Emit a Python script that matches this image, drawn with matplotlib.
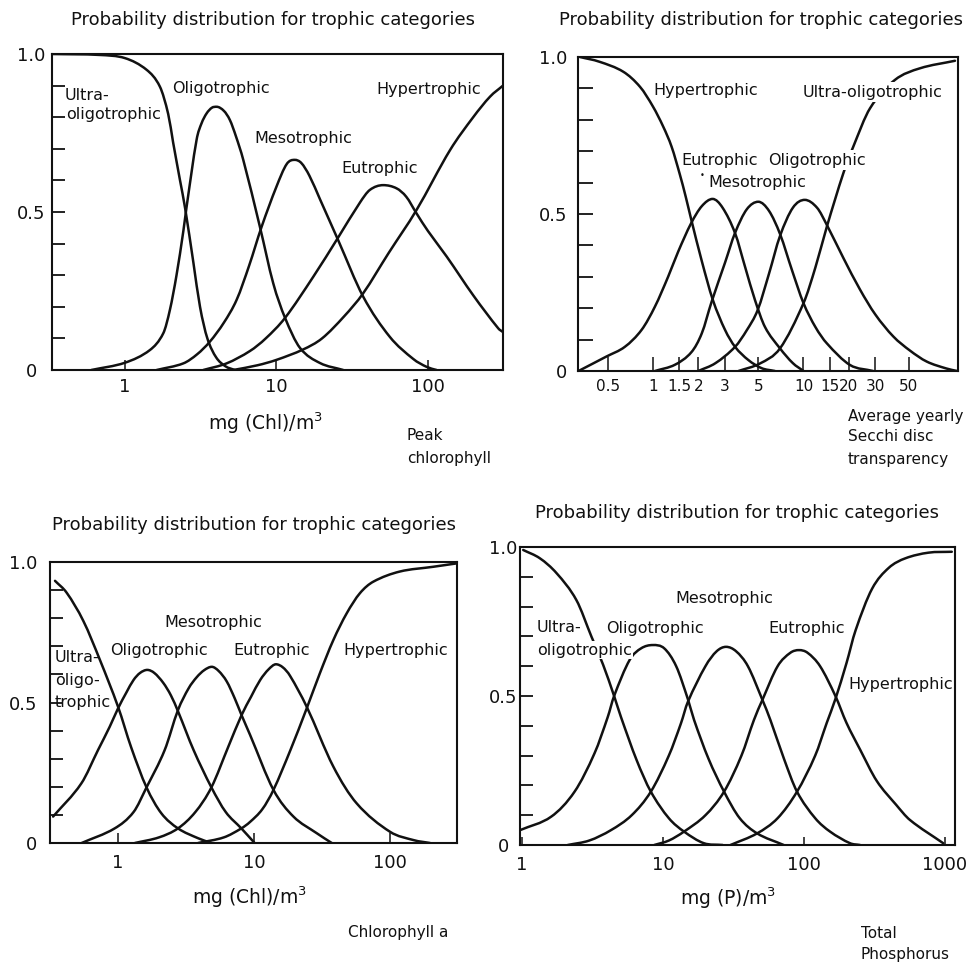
import numpy as np
import matplotlib
matplotlib.use("Agg")
import matplotlib.pyplot as plt
from matplotlib.ticker import FixedLocator, NullLocator
from matplotlib.path import Path
from matplotlib.patches import PathPatch

# ------------------------------------------------------------------ data
categories = ["Ultra-oligotrophic", "Oligotrophic", "Mesotrophic", "Eutrophic", "Hypertrophic"]
title_text = "Probability distribution for trophic categories"

y_ticks = [0.0, 0.1, 0.2, 0.3, 0.4, 0.5, 0.6, 0.7, 0.8, 0.9, 1.0]
y_tick_labels = ["0", "", "", "", "", "0.5", "", "", "", "", "1.0"]

# Panel A: peak chlorophyll, mg (Chl)/m3
pc_ticks = [1, 10, 100]
pc_tick_labels = ["1", "10", "100"]
pc_ultra_x = [0.33, 0.68, 1.0, 1.39, 1.70, 1.93, 2.08, 2.31, 2.5, 2.83, 3.13, 3.5, 4.0, 4.6, 5.3]
pc_ultra_y = [1.0, 0.997, 0.987, 0.95, 0.897, 0.81, 0.72, 0.60, 0.51, 0.34, 0.20, 0.10, 0.04, 0.012, 0.0]
pc_oligo_x = [0.6, 1.0, 1.46, 1.79, 1.98, 2.19, 2.43, 2.55, 2.97, 3.2, 3.46, 3.75, 4.03, 4.5, 4.93, 5.4,
              6.04, 7.78, 9.53, 11.4, 14.3, 19.4, 27.6]
pc_oligo_y = [0.0, 0.023, 0.063, 0.116, 0.19, 0.30, 0.44, 0.515, 0.728, 0.78, 0.812, 0.83, 0.833, 0.82,
              0.791, 0.74, 0.665, 0.453, 0.274, 0.165, 0.07, 0.022, 0.0]
pc_meso_x = [1.62, 2.43, 3.0, 3.64, 4.5, 5.46, 6.6, 7.98, 10, 11.7, 13.2, 14.6, 16.5, 19.4, 25.6, 37.4,
             56, 80, 98, 114]
pc_meso_y = [0.0, 0.021, 0.05, 0.09, 0.15, 0.222, 0.33, 0.453, 0.58, 0.652, 0.665, 0.655, 0.615, 0.54,
             0.41, 0.232, 0.105, 0.035, 0.01, 0.0]
pc_eutro_x = [3.29, 4.69, 6.68, 8.5, 11.4, 17.5, 25.6, 35.6, 41.4, 50.7, 62, 72, 84, 100, 133, 200, 291, 313]
pc_eutro_y = [0.0, 0.021, 0.06, 0.1, 0.165, 0.295, 0.42, 0.53, 0.57, 0.585, 0.575, 0.548, 0.496, 0.44,
              0.359, 0.235, 0.132, 0.12]
pc_hyper_x = [5.19, 7.5, 10, 15, 20, 28, 37.4, 55, 84, 140, 199, 257, 313]
pc_hyper_y = [0.0, 0.015, 0.032, 0.065, 0.1, 0.17, 0.243, 0.37, 0.506, 0.696, 0.80, 0.865, 0.9]

# Panel B: average yearly Secchi disc transparency
sd_ticks = [0.5, 1, 1.5, 2, 3, 5, 10, 15, 20, 30, 50]
sd_tick_labels = ["0.5", "1", "1.5", "2", "3", "5", "10", "15", "20", "30", "50"]
sd_hyper_x = [0.327, 0.44, 0.635, 0.82, 1.0, 1.17, 1.33, 1.51, 1.65, 1.79, 2.11, 2.5, 3.01, 3.51, 4.3, 5.27, 6.46]
sd_hyper_y = [1.0, 0.985, 0.953, 0.905, 0.842, 0.778, 0.714, 0.625, 0.555, 0.485, 0.35, 0.226, 0.131, 0.077,
              0.035, 0.009, 0.0]
sd_eutro_x = [0.32, 0.49, 0.65, 0.84, 1.03, 1.26, 1.47, 1.79, 2.11, 2.49, 2.9, 3.51, 4.1, 4.76, 5.55, 6.98, 8.5, 10]
sd_eutro_y = [0.0, 0.046, 0.077, 0.131, 0.205, 0.30, 0.38, 0.47, 0.525, 0.548, 0.52, 0.439, 0.33, 0.226,
              0.14, 0.072, 0.025, 0.0]
sd_meso_x = [1.03, 1.4, 1.8, 2.11, 2.45, 3.01, 3.51, 4.2, 5.01, 5.9, 7.0, 8.4, 10, 12, 14.3, 20.4, 29]
sd_meso_y = [0.0, 0.02, 0.06, 0.12, 0.22, 0.345, 0.44, 0.515, 0.539, 0.51, 0.435, 0.32, 0.216, 0.14,
             0.088, 0.019, 0.0]
sd_oligo_x = [2.0, 2.6, 3.51, 4.2, 4.96, 5.9, 6.98, 8.5, 10.2, 12.3, 14.3, 18.4, 23.7, 30, 39.5, 51, 65.9, 89, 105]
sd_oligo_y = [0.0, 0.025, 0.077, 0.13, 0.194, 0.31, 0.43, 0.52, 0.545, 0.52, 0.465, 0.36, 0.26, 0.18,
              0.11, 0.065, 0.03, 0.008, 0.0]
sd_ultra_x = [3.7, 5.14, 6.98, 10, 12, 14.3, 18.4, 21.4, 27.7, 40.5, 59.4, 101.5]
sd_ultra_y = [0.0, 0.024, 0.072, 0.216, 0.33, 0.46, 0.63, 0.714, 0.837, 0.927, 0.964, 0.988]

# Panel C: chlorophyll a, mg (Chl)/m3
ca_ticks = [1, 10, 100]
ca_tick_labels = ["1", "10", "100"]
ca_ultra_x = [0.344, 0.42, 0.556, 0.738, 1.0, 1.25, 1.62, 2.08, 2.76, 3.88, 4.86]
ca_ultra_y = [0.933, 0.89, 0.79, 0.65, 0.485, 0.34, 0.198, 0.106, 0.052, 0.017, 0.0]
ca_oligo_x = [0.333, 0.537, 0.713, 0.869, 1.0, 1.15, 1.3, 1.45, 1.64, 1.85, 2.15, 2.45, 2.77, 3.6, 4.86,
              6.2, 8.07, 10.1]
ca_oligo_y = [0.094, 0.212, 0.331, 0.414, 0.479, 0.535, 0.58, 0.605, 0.616, 0.605, 0.57, 0.525, 0.467,
              0.33, 0.198, 0.11, 0.052, 0.0]
ca_meso_x = [0.54, 0.945, 1.3, 1.62, 2.2, 2.76, 3.3, 3.79, 4.3, 4.89, 5.5, 6.3, 7.21, 8.1, 9.35, 13.9, 19.5,
             28.9, 37.3]
ca_meso_y = [0.0, 0.052, 0.11, 0.198, 0.33, 0.473, 0.55, 0.59, 0.615, 0.627, 0.612, 0.575, 0.515, 0.455,
             0.385, 0.189, 0.094, 0.035, 0.0]
ca_eutro_x = [1.33, 2.0, 2.76, 3.7, 4.86, 6.5, 8.1, 9.5, 11.1, 12.8, 14.5, 16.3, 18.4, 24.4, 38.3, 56.9,
              100, 150, 197]
ca_eutro_y = [0.0, 0.02, 0.052, 0.11, 0.198, 0.345, 0.455, 0.52, 0.58, 0.618, 0.636, 0.625, 0.595, 0.485,
              0.272, 0.141, 0.04, 0.01, 0.0]
ca_hyper_x = [3.88, 6.0, 8.07, 9.35, 11.5, 13.9, 18.5, 24.4, 30.5, 38.3, 48, 60.1, 75.4, 118, 208, 309]
ca_hyper_y = [0.0, 0.02, 0.052, 0.075, 0.12, 0.189, 0.33, 0.479, 0.604, 0.722, 0.817, 0.889, 0.93, 0.966,
              0.983, 0.995]

# Panel D: total phosphorus, mg (P)/m3
tp_ticks = [1, 10, 100, 1000]
tp_tick_labels = ["1", "10", "100", "1000"]
tp_ultra_x = [1.02, 1.34, 1.76, 2.43, 3.11, 3.76, 4.5, 5.03, 6.5, 8.2, 11, 14.1, 19.5, 26.5]
tp_ultra_y = [0.99, 0.962, 0.912, 0.822, 0.699, 0.605, 0.5, 0.43, 0.285, 0.179, 0.09, 0.045, 0.006, 0.0]
tp_oligo_x = [0.97, 1.61, 2.36, 3.27, 4.06, 4.5, 5.8, 7.0, 8.47, 10.2, 12.4, 15.0, 16.6, 21, 27.1, 35, 46.5, 71.8]
tp_oligo_y = [0.05, 0.095, 0.179, 0.308, 0.43, 0.5, 0.621, 0.66, 0.671, 0.66, 0.6, 0.49, 0.42, 0.29,
              0.179, 0.09, 0.039, 0.0]
tp_meso_x = [2.11, 3.0, 4.28, 6.0, 8.2, 11, 13.4, 15.0, 20, 24, 28, 33, 40, 50.7, 57.8, 72, 89.2, 120,
             153, 212, 250]
tp_meso_y = [0.0, 0.015, 0.05, 0.1, 0.179, 0.3, 0.408, 0.48, 0.6, 0.65, 0.665, 0.65, 0.6, 0.487, 0.419,
             0.29, 0.179, 0.09, 0.045, 0.006, 0.0]
tp_eutro_x = [8.67, 11, 14.1, 20, 27.1, 36, 44.1, 50.7, 65, 80, 92.2, 106, 130, 167, 200, 250, 328, 450, 564, 971]
tp_eutro_y = [0.0, 0.015, 0.045, 0.1, 0.179, 0.3, 0.419, 0.487, 0.6, 0.645, 0.654, 0.645, 0.6, 0.5,
              0.41, 0.32, 0.215, 0.135, 0.084, 0.006]
tp_hyper_x = [30.1, 46.5, 65, 89.2, 120, 145, 167, 200, 232, 304, 399, 523, 764, 1117]
tp_hyper_y = [0.0, 0.039, 0.09, 0.179, 0.3, 0.41, 0.49, 0.61, 0.72, 0.86, 0.93, 0.962, 0.981, 0.984]

# ------------------------------------------------------------------ figure
W, H = 979, 965
plt.rcParams["font.family"] = ["DejaVu Sans"]
fig = plt.figure(figsize=(W / 100, H / 100), dpi=100)

INK = "#111111"
TITLE_FS = 13
TICK_FS = 13
LAB_FS = 11.5
SIDE_FS = 11
AXLAB_FS = 13.5


def px_axes(x0, y0, x1, y1):
    return fig.add_axes([x0 / W, 1 - y1 / H, (x1 - x0) / W, (y1 - y0) / H])


def ftext(x, y, s, fs=LAB_FS, ha="left", va="center", **kw):
    return fig.text(x / W, 1 - y / H, s, fontsize=fs, ha=ha, va=va, color=INK, **kw)


def smooth_line(ax, xs, ys):
    """Draw the read points as one smooth Bezier path (Hermite tangents in log-x space)."""
    lx = np.log10(np.asarray(xs, float))
    y = np.asarray(ys, float)
    n = len(lx)
    d = np.diff(y) / np.diff(lx)
    m = np.zeros(n)
    m[0], m[-1] = d[0], d[-1]
    for i in range(1, n - 1):
        if d[i - 1] * d[i] > 0:
            m[i] = (y[i + 1] - y[i - 1]) / (lx[i + 1] - lx[i - 1])
    verts = [(lx[0], y[0])]
    codes = [Path.MOVETO]
    for i in range(n - 1):
        h = lx[i + 1] - lx[i]
        verts += [(lx[i] + h / 3, y[i] + m[i] * h / 3),
                  (lx[i + 1] - h / 3, y[i + 1] - m[i + 1] * h / 3),
                  (lx[i + 1], y[i + 1])]
        codes += [Path.CURVE4] * 3
    verts = np.array(verts)
    verts[:, 0] = 10 ** verts[:, 0]
    ax.add_patch(PathPatch(Path(verts, codes), fill=False, ec=INK, lw=1.8,
                           joinstyle="round", capstyle="round", zorder=2))


def style(ax, xlim, xticks, xlabels, yha, ypad, ylen, xlen, xpad, xfs=TICK_FS):
    ax.set_xscale("log")
    ax.set_xlim(*xlim)
    ax.set_ylim(0, 1)
    ax.xaxis.set_major_locator(FixedLocator(xticks))
    ax.xaxis.set_minor_locator(NullLocator())
    ax.set_xticklabels(xlabels)
    ax.yaxis.set_major_locator(FixedLocator(y_ticks))
    ax.yaxis.set_minor_locator(NullLocator())
    ax.set_yticklabels(y_tick_labels)
    ax.tick_params(axis="y", direction="in", length=ylen, width=1.3, pad=ypad,
                   labelsize=TICK_FS, colors=INK)
    ax.tick_params(axis="x", direction="in", length=xlen, width=1.1, pad=xpad,
                   labelsize=xfs, colors=INK)
    for t in ax.get_yticklabels():
        t.set_horizontalalignment(yha)
    for sp in ax.spines.values():
        sp.set_linewidth(1.5)
        sp.set_color(INK)
    ax.set_facecolor("white")


# ---------------- Panel A
axA = px_axes(52, 54, 503, 370)
for xs, ys in [(pc_ultra_x, pc_ultra_y), (pc_oligo_x, pc_oligo_y), (pc_meso_x, pc_meso_y),
               (pc_eutro_x, pc_eutro_y), (pc_hyper_x, pc_hyper_y)]:
    smooth_line(axA, xs, ys)
style(axA, (0.33, 313), pc_ticks, pc_tick_labels, "center", 15, 9, 7, 6)
ftext(273, 20, title_text, fs=TITLE_FS, ha="center")
ftext(65, 95, "Ultra-")
ftext(66, 115, "oligotrophic")
ftext(172, 88, categories[1])
ftext(254, 139, categories[2])
ftext(341, 168, categories[3])
ftext(376, 89, categories[4])
ftext(265, 423, "mg (Chl)/m$^3$", fs=AXLAB_FS, ha="center")
ftext(407, 435, "Peak", fs=SIDE_FS)
ftext(407, 458, "chlorophyll", fs=SIDE_FS)

# ---------------- Panel B
axB = px_axes(578, 57, 958, 371)
for xs, ys in [(sd_hyper_x, sd_hyper_y), (sd_eutro_x, sd_eutro_y), (sd_meso_x, sd_meso_y),
               (sd_oligo_x, sd_oligo_y), (sd_ultra_x, sd_ultra_y)]:
    smooth_line(axB, xs, ys)
style(axB, (0.3175, 106.3), sd_ticks, sd_tick_labels, "right", 8, 11, 10, 6, xfs=11)
ftext(761, 20, title_text, fs=TITLE_FS, ha="center")
ftext(653, 90, categories[4])
ftext(803, 92, categories[0], bbox=dict(boxstyle="square,pad=0.15", fc="white", ec="none"), zorder=5)
ftext(681, 160, categories[3])
ftext(768, 160, categories[1], bbox=dict(boxstyle="square,pad=0.15", fc="white", ec="none"), zorder=5)
ftext(708, 183, categories[2])
ftext(702, 176, "\u2022", fs=6, ha="center")
ftext(848, 416, "Average yearly", fs=SIDE_FS)
ftext(848, 437, "Secchi disc", fs=SIDE_FS)
ftext(848, 460, "transparency", fs=SIDE_FS)

# ---------------- Panel C
axC = px_axes(50, 562, 457, 843)
for xs, ys in [(ca_ultra_x, ca_ultra_y), (ca_oligo_x, ca_oligo_y), (ca_meso_x, ca_meso_y),
               (ca_eutro_x, ca_eutro_y), (ca_hyper_x, ca_hyper_y)]:
    smooth_line(axC, xs, ys)
style(axC, (0.316, 311), ca_ticks, ca_tick_labels, "right", 9, 9, 7, 8)
ftext(254, 525, title_text, fs=TITLE_FS, ha="center")
ftext(55, 658, "Ultra-")
ftext(55, 681, "oligo-")
ftext(55, 702, "trophic")
ftext(164, 622, categories[2])
ftext(110, 650, categories[1])
ftext(233, 650, categories[3])
ftext(343, 650, categories[4])
ftext(249, 897, "mg (Chl)/m$^3$", fs=AXLAB_FS, ha="center")
ftext(348, 932, "Chlorophyll a", fs=SIDE_FS)

# ---------------- Panel D
axD = px_axes(520, 547, 955, 845)
for xs, ys in [(tp_ultra_x, tp_ultra_y), (tp_oligo_x, tp_oligo_y), (tp_meso_x, tp_meso_y),
               (tp_eutro_x, tp_eutro_y), (tp_hyper_x, tp_hyper_y)]:
    smooth_line(axD, xs, ys)
style(axD, (0.968, 1177), tp_ticks, tp_tick_labels, "center", 12, 9, 6, 8)
ftext(737, 513, title_text, fs=TITLE_FS, ha="center")
ftext(537, 628, "Ultra-")
ftext(537, 650, "oligotrophic", bbox=dict(boxstyle="square,pad=0.1", fc="white", ec="none"), zorder=5)
ftext(606, 628, categories[1])
ftext(675, 598, categories[2])
ftext(768, 628, categories[3])
ftext(848, 685, categories[4])
ftext(728, 898, "mg (P)/m$^3$", fs=AXLAB_FS, ha="center")
ftext(861, 933, "Total", fs=SIDE_FS)
ftext(861, 955, "Phosphorus", fs=SIDE_FS)

fig.savefig("out.png", dpi=100, facecolor="white")
